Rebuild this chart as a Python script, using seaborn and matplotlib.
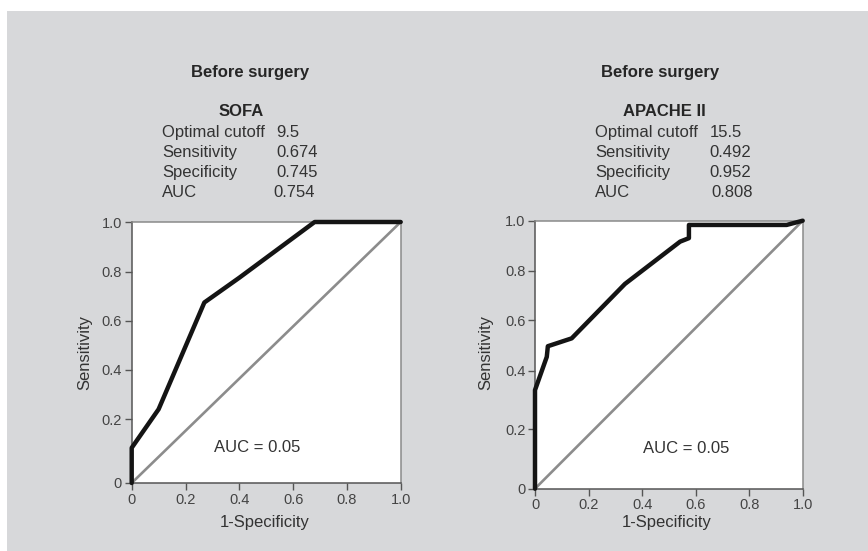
import numpy as np
import pandas as pd
import matplotlib
matplotlib.use("Agg")
import matplotlib.pyplot as plt
from matplotlib.patches import Rectangle
import seaborn as sns

# ---------------- data ----------------
sofa_fpr = [0.0, 0.0, 0.10, 0.27, 0.40, 0.68, 1.0]
sofa_tpr = [0.0, 0.11, 0.24, 0.674, 0.775, 1.0, 1.0]

apache_fpr = [0.0, 0.0, 0.044, 0.048, 0.137, 0.336, 0.542, 0.575, 0.575, 0.94, 1.0]
apache_tpr = [0.0, 0.334, 0.455, 0.497, 0.528, 0.746, 0.916, 0.93, 0.983, 0.983, 1.0]

panel_heading = "Before surgery"
score_names = ["SOFA", "APACHE II"]
stat_labels = ["Optimal cutoff", "Sensitivity", "Specificity", "AUC"]
sofa_stats = ["9.5", "0.674", "0.745", "0.754"]
apache_stats = ["15.5", "0.492", "0.952", "0.808"]
auc_note = "AUC = 0.05"

tick_values = [0.0, 0.2, 0.4, 0.6, 0.8, 1.0]
x_tick_labels = ["0", "0.2", "0.4", "0.6", "0.8", "1.0"]
y_tick_labels = ["0", "0.2", "0.4", "0.6", "0.8", "1.0"]

# ---------------- layout / style ----------------
W, H = 868, 551
# where the y tick values sit on the (irregular) printed axis, as axis fraction
left_tick_pos = [0.0, 0.245, 0.433, 0.622, 0.81, 1.0]
right_tick_pos = [0.0, 0.2216, 0.440, 0.629, 0.814, 1.0]

sns.set_style("ticks")
plt.rcParams["font.family"] = ["Liberation Sans", "DejaVu Sans"]

BG = "#d7d8da"
TXT = "#262626"

fig = plt.figure(figsize=(W / 100, H / 100), dpi=100)
fig.patch.set_facecolor("white")
fig.add_artist(Rectangle((7 / W, 0), 1, (H - 11) / H, transform=fig.transFigure,
                         facecolor=BG, edgecolor="none", zorder=-10))


def px_ax(x0, x1, y0, y1):
    return fig.add_axes([x0 / W, (H - y1) / H, (x1 - x0) / W, (y1 - y0) / H])


def make_scale(pos):
    vals = np.array([-1.0] + tick_values + [2.0])
    p = np.array([-1.0] + pos + [2.0])

    def fwd(y):
        return np.interp(y, vals, p)

    def inv(y):
        return np.interp(y, p, vals)
    return fwd, inv


def draw_panel(ax, fpr, tpr, pos):
    df = pd.DataFrame({"fpr": fpr, "tpr": tpr})
    ax.set_facecolor("white")
    ax.set_yscale("function", functions=make_scale(pos))
    ax.plot([0, 1], [0, 1], transform=ax.transAxes, color="#8c8c8c", lw=1.9,
            solid_capstyle="butt", zorder=2)
    sns.lineplot(data=df, x="fpr", y="tpr", sort=False, estimator=None, ax=ax,
                 color="#141414", lw=3.2, clip_on=False, zorder=3)
    ax.set_xlim(0, 1)
    ax.set_ylim(0, 1)
    ax.set_xticks(tick_values)
    ax.set_xticklabels(x_tick_labels)
    ax.set_yticks(tick_values)
    ax.set_yticklabels(y_tick_labels)
    ax.minorticks_off()
    ax.tick_params(axis="both", direction="out", length=5, width=1.0,
                   color="#555555", labelcolor="#444444", labelsize=10.5, pad=2)
    for side in ["left", "bottom"]:
        ax.spines[side].set_color("#555555")
        ax.spines[side].set_linewidth(1.1)
    for side in ["top", "right"]:
        ax.spines[side].set_visible(True)
        ax.spines[side].set_color("#8a8a8a")
        ax.spines[side].set_linewidth(1.1)
    ax.set_xlabel("")
    ax.set_ylabel("")


axL = px_ax(131.7, 400.7, 222, 483)
axR = px_ax(535, 802.7, 220.7, 488.7)
draw_panel(axL, sofa_fpr, sofa_tpr, left_tick_pos)
draw_panel(axR, apache_fpr, apache_tpr, right_tick_pos)


def ftext(x, y, s, **kw):
    kw.setdefault("color", TXT)
    kw.setdefault("fontsize", 12)
    kw.setdefault("va", "center")
    fig.text(x / W, 1 - y / H, s, **kw)


# headings
ftext(250, 72, panel_heading, ha="center", fontweight="bold")
ftext(660, 72, panel_heading, ha="center", fontweight="bold")
ftext(241, 112, score_names[0], ha="center", fontweight="bold")
ftext(664.5, 112, score_names[1], ha="center", fontweight="bold")

rows_y = [132.7, 152.7, 172.7, 192.7]
left_val_x = [276, 276.7, 276.7, 273.3]
right_val_x = [710, 709.3, 709.3, 711.3]
for i, lab in enumerate(stat_labels):
    ftext(162, rows_y[i], lab, ha="left", color="#333333")
    ftext(left_val_x[i], rows_y[i], sofa_stats[i], ha="left", color="#333333")
    ftext(595, rows_y[i], lab, ha="left", color="#333333")
    ftext(right_val_x[i], rows_y[i], apache_stats[i], ha="left", color="#333333")

# in-plot notes
ftext(257.5, 448, auc_note, ha="center", color="#333333")
ftext(686, 448.3, auc_note, ha="center", color="#333333")

# axis labels
ftext(85, 353, "Sensitivity", ha="center", rotation=90, color="#333333")
ftext(486, 353, "Sensitivity", ha="center", rotation=90, color="#333333")
ftext(265, 523, "1-Specificity", ha="center", color="#333333")
ftext(667, 523, "1-Specificity", ha="center", color="#333333")

fig.savefig("out.png", dpi=100, facecolor=fig.get_facecolor())
